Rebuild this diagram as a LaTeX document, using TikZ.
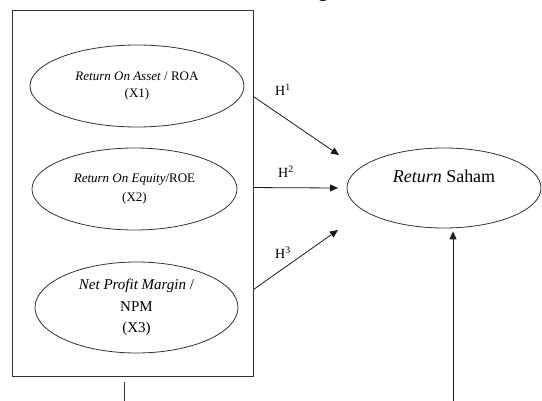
\documentclass[tikz,border=0pt]{standalone}
\usepackage{fontspec}
\setmainfont{Liberation Serif}
\usetikzlibrary{shapes.geometric,arrows.meta,calc}
\tikzset{
  frame/.style={draw=black!80, line width=0.9pt, inner sep=0pt},
  var/.style={draw=black!80, line width=0.8pt, ellipse, inner sep=0pt, align=center},
  arr/.style={draw=black!90, line width=0.8pt, -{Triangle[length=8pt,width=7pt]}},
  plain/.style={draw=black!80, line width=0.8pt},
  hlab/.style={inner sep=0pt, font=\fontsize{14}{16}\selectfont}
}
\begin{document}
\begin{tikzpicture}[x=1pt,y=-1pt]
\useasboundingbox[fill=white] (0,0) rectangle (542,401);
% fragment of title above
\node[inner sep=0pt, anchor=base, font=\bfseries\fontsize{18}{20}\selectfont] (title) at (323,-2.5) {g};
% frame
\node[frame, minimum width=241pt, minimum height=366pt] (box) at (132.5,193) {};
% ellipses
\node[var, minimum width=214pt, minimum height=82pt, font=\fontsize{13}{17}\selectfont] (x1) at (137,86)
  {\textit{Return On Asset} / ROA\\(X1)};
\node[var, minimum width=205pt, minimum height=82pt, font=\fontsize{13}{19}\selectfont] (x2) at (134.5,189)
  {\textit{Return On Equity}/ROE\\(X2)};
\node[var, minimum width=203pt, minimum height=91pt, font=\fontsize{15}{21.5}\selectfont] (x3) at (136.5,307.5)
  {\textit{Net Profit Margin} /\\NPM\\(X3)};
\node[var, minimum width=194pt, minimum height=80pt, font=\fontsize{18}{20}\selectfont] (y) at (444,188)
  {\textit{Return} Saham\\[-2pt]\strut};
% arrow starts / ends
\coordinate (s1) at ($(box.north east)+(0,87)$);
\coordinate (s2) at ($(box.north east)+(0,178)$);
\coordinate (s3) at ($(box.north east)+(0,280)$);
\coordinate (t1) at (339,155);
\coordinate (t2) at (338,188);
\coordinate (t3) at (338,230);
\draw[arr] (s1) -- (t1);
\draw[arr] (s2) -- (t2);
\draw[arr] (s3) -- (t3);
\node[hlab] (h1) at (283,90) {H\textsuperscript{1}};
\node[hlab] (h2) at (286,172) {H\textsuperscript{2}};
\node[hlab] (h3) at (283,253) {H\textsuperscript{3}};
% bottom lines
\coordinate (b) at (453,401);
\draw[arr, shorten >=3pt] (b) -- (b |- y.south);
\coordinate (c1) at (124,382);
\coordinate (c2) at (124,401);
\draw[plain] (c1) -- (c2);
\end{tikzpicture}
\end{document}
